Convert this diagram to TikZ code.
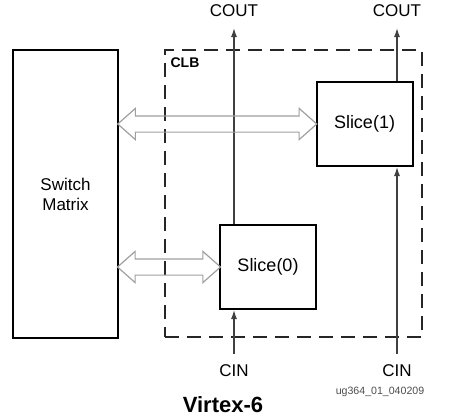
\documentclass[tikz,border=0pt]{standalone}
\usepackage{fontspec}
\setmainfont{Liberation Sans}
\usetikzlibrary{arrows.meta,shapes.arrows,calc}
\tikzstyle{blk}=[draw, line width=1pt, inner sep=0pt, align=center]
\tikzstyle{slice}=[blk, minimum width=48pt, minimum height=42pt, font=\fontsize{9}{10}\selectfont]
\tikzstyle{clb}=[draw=black!85, line width=1.2pt, dash pattern=on 7pt off 4pt]
\tikzstyle{bus}=[double arrow, draw=gray!75, line width=0.6pt, inner sep=3.75pt,
    double arrow head extend=3.75pt, double arrow tip angle=83]
\tikzstyle{wire}=[draw=black!75, line width=0.6pt, -{Latex[length=4.5pt,width=3pt]}]
\newcommand{\slice}{\node[slice]}

\begin{document}
\begin{tikzpicture}[x=0.5pt, y=-0.5pt
    ,every node/.style={font=\fontsize{8.5}{10}\selectfont}
]
\useasboundingbox (0,0) rectangle (454,418);
\node[blk, minimum width=52.5pt, minimum height=144pt] (sm) at (65.5,194) {Switch\\Matrix};
\node[clb, minimum width=128.5pt, minimum height=143.5pt] (clb) at (293.5,193.5) {};
\slice (s1) at (364.5,124) {Slice(1)};
\slice (s0) at (268,267) {Slice(0)};
\node[font=\bfseries\fontsize{7}{8}\selectfont] (clbname) at (185,63) {CLB};
% carry chain
\node (cout0) at (234,11) {COUT};
\node (cout1) at (397,11) {COUT};
\node (cin0) at (234,371) {CIN};
\node (cin1) at (397,371) {CIN};
\draw[wire, shorten >=2pt] (s0.north -| cout0) -- (cout0);
\draw[wire, shorten >=2pt] (s1.north -| cout1) -- (cout1);
\draw[wire, shorten <=2pt] (cin0) -- (s0.south -| cin0);
\draw[wire, shorten <=2pt] (cin1) -- (s1.south -| cin1);
% routing to the switch matrix
\node[bus, minimum height=99.5pt] (bus1) at ($(sm.east |- s1)!0.5!(s1.west)$) {};
\node[bus, minimum height=51.5pt] (bus0) at ($(sm.east |- s0)!0.5!(s0.west)$) {};
\node[font=\fontsize{5.3}{6}\selectfont, text=black!70] (figid) at (380,392) {ug364\_01\_040209};
\node[font=\bfseries\fontsize{11}{12}\selectfont] (title) at (223,405) {Virtex-6};
\end{tikzpicture}
\end{document}
